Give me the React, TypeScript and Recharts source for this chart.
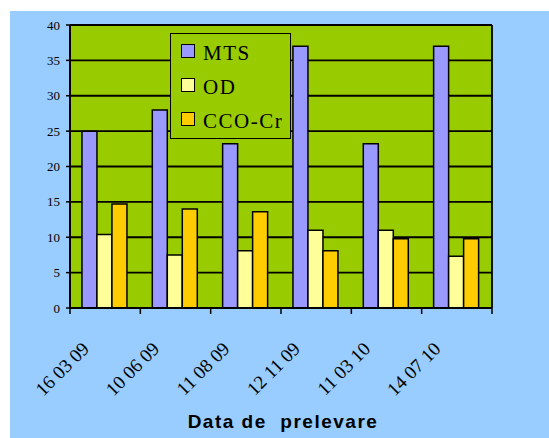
import { BarChart, Bar, CartesianGrid, XAxis, YAxis, Legend } from "recharts";

const dates = ["16 03 09", "10 06 09", "11 08 09", "12 11 09", "11 03 10", "14 07 10"];
const mts = [25, 28, 23.2, 37, 23.2, 37];
const od = [10.4, 7.5, 8.1, 11, 11, 7.3];
const ccoCr = [14.7, 14, 13.6, 8.1, 9.8, 9.8];
const seriesNames = ["MTS", "OD", "CCO-Cr"];
const yTicks = [0, 5, 10, 15, 20, 25, 30, 35, 40];

const data = dates.map((d, i) => ({ date: d, MTS: mts[i], OD: od[i], "CCO-Cr": ccoCr[i] }));

const serif = "Liberation Serif, Tinos, Times New Roman, DejaVu Serif, serif";
const sans = "Liberation Sans, Arimo, Arial, Noto Sans, Roboto, sans-serif";

const DateTick = (props: any) => {
  const { x, y, payload, index } = props;
  const half = payload?.offset ?? 0;
  return (
    <g>
      <line x1={x - half} x2={x - half} y1={y} y2={y + 6} stroke="#000" strokeWidth={1.5} />
      {index === dates.length - 1 && (
        <line x1={x + half} x2={x + half} y1={y} y2={y + 6} stroke="#000" strokeWidth={1.5} />
      )}
      <text
        transform={`translate(${x - 15},${y + 42}) rotate(-45)`}
        textAnchor="end"
        style={{ fontFamily: serif, fontSize: 19 }}
        fill="#000"
      >
        {payload.value}
      </text>
    </g>
  );
};

const ValueTick = (props: any) => {
  const { x, y, payload } = props;
  return (
    <text x={x} y={y} dy={4.5} textAnchor="end" style={{ fontFamily: serif, fontSize: 13 }} fill="#000">
      {payload.value}
    </text>
  );
};

const AxisTitle = (props: any) => {
  const { viewBox } = props;
  if (!viewBox) return null;
  return (
    <text
      x={viewBox.x + viewBox.width / 2 + 2}
      y={viewBox.y + viewBox.height - 10}
      textAnchor="middle"
      style={{ fontFamily: sans, fontWeight: "bold", fontSize: 19, letterSpacing: 1.5 }}
      fill="#000"
    >
      {"Data de\u00A0 prelevare"}
    </text>
  );
};

const LegendBox = (props: any) => {
  const items = [...(props.payload || [])].sort(
    (a: any, b: any) => seriesNames.indexOf(a.value) - seriesNames.indexOf(b.value)
  );
  return (
    <div
      style={{
        width: 121,
        height: 106,
        boxSizing: "border-box",
        border: "1.5px solid #000",
        background: "#99CC00",
      }}
    >
      {items.map((it: any) => (
        <div key={it.value} style={{ display: "flex", alignItems: "center", height: 34 }}>
          <span
            style={{
              display: "inline-block",
              width: 12,
              height: 12,
              marginLeft: 10,
              border: "1.5px solid #000",
              background: it.color,
            }}
          />
          <span
            style={{
              marginLeft: 8,
              position: "relative",
              top: 2,
              fontFamily: serif,
              fontSize: 21,
              letterSpacing: 1.5,
              lineHeight: "24px",
              color: "#000",
            }}
          >
            {it.value}
          </span>
        </div>
      ))}
    </div>
  );
};

const App = () => {
  return (
    <div style={{ position: "absolute", left: 10, top: 11, width: 539, height: 427, background: "#99CCFF" }}>
      <BarChart
        width={539}
        height={427}
        data={data}
        margin={{ top: 14, right: 57, left: 0, bottom: 0 }}
        barCategoryGap="17%"
        barGap={0}
      >
        <CartesianGrid
          stroke="#000"
          strokeWidth={1.8}
          fill="#99CC00"
          fillOpacity={1}
          verticalCoordinatesGenerator={({ offset }: any) => [offset.left + offset.width]}
        />
        <XAxis
          dataKey="date"
          height={130}
          interval={0}
          tickLine={false}
          tickSize={0}
          tickMargin={0}
          axisLine={{ stroke: "#000", strokeWidth: 2 }}
          tick={<DateTick />}
          label={<AxisTitle />}
        />
        <YAxis
          width={60}
          domain={[0, 40]}
          ticks={yTicks}
          interval={0}
          tickSize={4}
          tickMargin={6}
          axisLine={{ stroke: "#000", strokeWidth: 2 }}
          tickLine={{ stroke: "#000", strokeWidth: 1.5 }}
          tick={<ValueTick />}
        />
        <Legend
          layout="vertical"
          align="center"
          verticalAlign="middle"
          content={<LegendBox />}
          wrapperStyle={{ left: 160, top: 22, width: 121, height: 106 }}
        />
        <Bar dataKey="MTS" fill="#9999FF" stroke="#000" strokeWidth={1.5} isAnimationActive={false} />
        <Bar dataKey="OD" fill="#FFFF99" stroke="#000" strokeWidth={1.5} isAnimationActive={false} />
        <Bar dataKey="CCO-Cr" fill="#FFCC00" stroke="#000" strokeWidth={1.5} isAnimationActive={false} />
      </BarChart>
    </div>
  );
};

export default App;
